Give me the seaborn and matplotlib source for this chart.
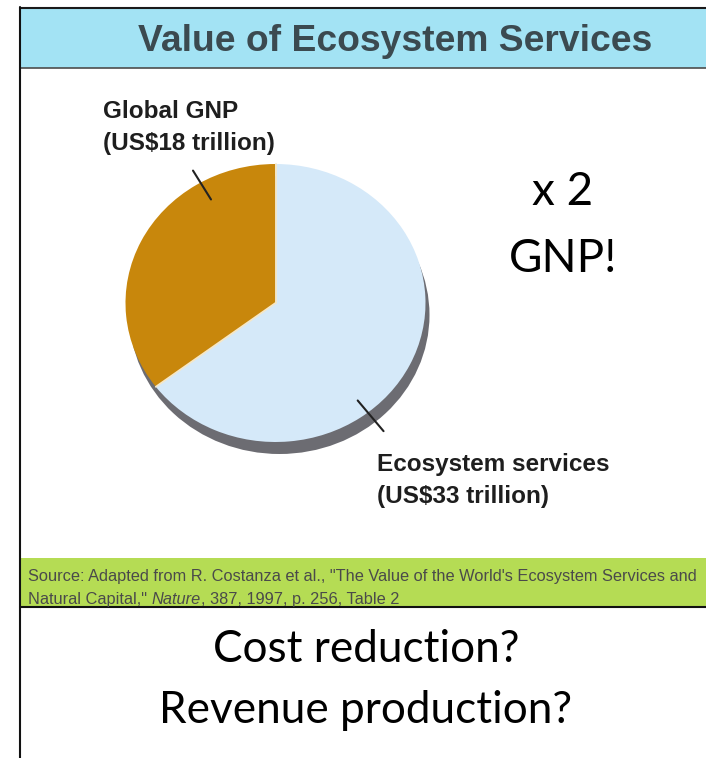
import numpy as np
import matplotlib
matplotlib.use("Agg")
import matplotlib.pyplot as plt
from matplotlib.patches import Ellipse, Rectangle
import seaborn as sns

# Values in US$ trillion
categories = ["Global GNP", "Ecosystem services"]
values = [18, 33]
slice_colors = ["#c8870c", "#d5e9f9"]

title = "Value of Ecosystem Services"
ratio_note = ["x 2", "GNP!"]
questions = ["Cost reduction?", "Revenue production?"]
source_line1 = 'Source: Adapted from R. Costanza et al., "The Value of the World\'s Ecosystem Services and'
source_line2 = ['Natural Capital," ', "Nature", ", 387, 1997, p. 256, Table 2"]

sns.set_theme(style="white")
plt.rcParams["font.family"] = ["Liberation Sans", "DejaVu Sans"]

W, H = 706, 758
fig = plt.figure(figsize=(W / 100, H / 100), dpi=100)
fig.patch.set_facecolor("white")

# Pixel-space canvas for the slide frame and text
bg = fig.add_axes([0, 0, 1, 1])
bg.set_xlim(0, W)
bg.set_ylim(H, 0)
bg.axis("off")

bg.add_patch(Rectangle((20, 7), W - 20, 61, facecolor="#a3e3f4", edgecolor="none"))
bg.plot([20, W], [7.5, 7.5], color="#1a1a1a", lw=1.5)
bg.plot([20, W], [68, 68], color="#4d4d4d", lw=1.2)
bg.add_patch(Rectangle((20, 558), W - 20, 49, facecolor="#b5dc54", edgecolor="none"))
bg.plot([20, W], [607, 607], color="#111111", lw=1.5)
bg.plot([20, 20], [7, H], color="#111111", lw=1.5)

bg.text(395, 51, title, ha="center", va="baseline", fontsize=26.8,
        fontweight="bold", color="#3b4a50")

# Pie: slightly flattened disc with a grey rim underneath
cx, cy, rx, ry = 275.5, 303, 150, 139
pad = 1.2
pw, ph = 2 * rx * pad, 2 * ry * pad
pie_ax = fig.add_axes([(cx - pw / 2) / W, (H - (cy + ph / 2)) / H, pw / W, ph / H])
pie_ax.patch.set_visible(False)
pie_ax.add_patch(Ellipse((4 / rx, -12 / ry), 2, 2, facecolor="#6c6c72",
                         edgecolor="none", zorder=0.5))
start = 90
wedges, _ = pie_ax.pie(values, colors=slice_colors, startangle=start, counterclock=True,
                       radius=1, wedgeprops=dict(edgecolor="none"))
# thin light seams along the slice boundaries
bounds = start + 360 * np.cumsum([0] + values[:-1]) / np.sum(values)
for b in bounds:
    a = np.deg2rad(b)
    pie_ax.plot([0, np.cos(a)], [0, np.sin(a)], color="#f6e7c6", lw=1.3, zorder=2)
pie_ax.set_aspect("auto")
pie_ax.set_xlim(-pad, pad)
pie_ax.set_ylim(-pad, pad)
pie_ax.axis("off")

# Leader ticks from each slice towards its label
for ang, r0, r1 in [(120, 0.86, 1.10), (-52, 0.89, 1.17)]:
    a = np.deg2rad(ang)
    pie_ax.plot([r0 * np.cos(a), r1 * np.cos(a)], [r0 * np.sin(a), r1 * np.sin(a)],
                color="#222222", lw=1.5, zorder=3, clip_on=False)

label_pos = [(103, 118), (377, 471)]
for name, v, (lx, ly) in zip(categories, values, label_pos):
    bg.text(lx, ly, name, ha="left", va="baseline", fontsize=17.5,
            fontweight="bold", color="#1e1e1e")
    bg.text(lx, ly + 32, f"(US${v} trillion)", ha="left", va="baseline",
            fontsize=17.5, fontweight="bold", color="#1e1e1e")

# Source note in the green band, with the journal name in italics
bg.text(28, 581, source_line1, ha="left", va="baseline", fontsize=11.8, color="#4a4a4a")
fig.canvas.draw()
renderer = fig.canvas.get_renderer()
x = 28
for i, piece in enumerate(source_line2):
    t = bg.text(x, 604, piece, ha="left", va="baseline", fontsize=11.8, color="#4a4a4a",
                style="italic" if i == 1 else "normal")
    bb = t.get_window_extent(renderer=renderer)
    x += bb.width

bg.text(563, 205, ratio_note[0], ha="center", va="baseline", fontsize=33,
        family=["Lato", "DejaVu Sans"], color="black")
bg.text(563, 272, ratio_note[1], ha="center", va="baseline", fontsize=33,
        family=["Lato", "DejaVu Sans"], color="black")

for q, yb in zip(questions, [662, 723]):
    bg.text(366, yb, q, ha="center", va="baseline", fontsize=31.8,
            family=["Lato", "DejaVu Sans"], color="black")

fig.savefig("out.png", dpi=100)
